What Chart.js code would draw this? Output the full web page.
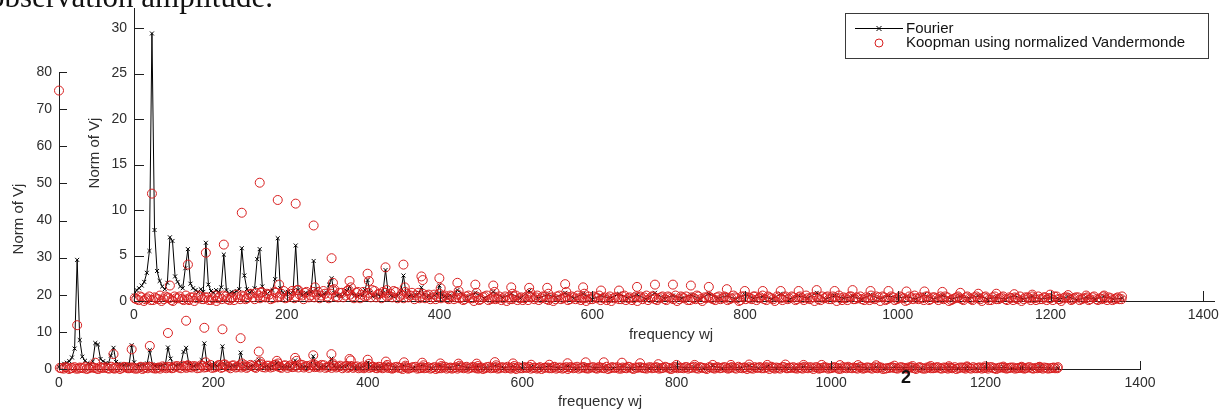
<!DOCTYPE html>
<html lang="en">
<head>
<meta charset="utf-8">
<title>Fourier vs Koopman</title>
<script src="https://cdn.jsdelivr.net/npm/chart.js@4.4.1/dist/chart.umd.min.js"></script>
<style>
  html, body { margin: 0; padding: 0; background: #fff; overflow: hidden; }
  #lienzo { position: relative; width: 1226px; height: 413px; }
  #lienzo canvas { position: absolute; left: 0; top: 0; }
  .texto-pagina { position: absolute; white-space: nowrap; color: #111; }
  #textoSuperior { right: 953px; top: -19px; font: 31px/31px "Liberation Serif", "Times New Roman", serif; }
  #numeroPagina { left: 901px; top: 368px; font: 600 18px/18px "Liberation Sans", Arial, sans-serif; }
</style>
</head>
<body>
<div id="lienzo">
  <canvas id="chartFondo" width="1226" height="413"></canvas>
  <canvas id="chartFrente" width="1226" height="413"></canvas>
  <div class="texto-pagina" id="textoSuperior">observation amplitude.</div>
  <div class="texto-pagina" id="numeroPagina">2</div>
</div>
<script>
// Espectro de Fourier contra modos de Koopman (Vandermonde normalizada).
// Dos ejes MATLAB superpuestos: el de fondo (0-80) y el de frente (0-32).

// Fourier: bins de 0 a 420 uno a uno, despues picos y valles alternados.
const frecuenciasFourier = [
  0, 3.4, 6.7, 10.1, 13.4, 16.8, 20.2, 23.5, 26.9, 30.2,
  33.6, 37.0, 40.3, 43.7, 47.0, 50.4, 53.8, 57.1, 60.5, 63.8,
  67.2, 70.6, 73.9, 77.3, 80.6, 84.0, 87.4, 90.7, 94.1, 97.4,
  100.8, 104.2, 107.5, 110.9, 114.2, 117.6, 121.0, 124.3, 127.7, 131.0,
  134.4, 137.8, 141.1, 144.5, 147.8, 151.2, 154.6, 157.9, 161.3, 164.6,
  168.0, 171.4, 174.7, 178.1, 181.4, 184.8, 188.2, 191.5, 194.9, 198.2,
  201.6, 205.0, 208.3, 211.7, 215.0, 218.4, 221.8, 225.1, 228.5, 231.8,
  235.2, 238.6, 241.9, 245.3, 248.6, 252.0, 255.4, 258.7, 262.1, 265.4,
  268.8, 272.2, 275.5, 278.9, 282.2, 285.6, 289.0, 292.3, 295.7, 299.0,
  302.4, 305.8, 309.1, 312.5, 315.8, 319.2, 322.6, 325.9, 329.3, 332.6,
  336.0, 339.4, 342.7, 346.1, 349.4, 352.8, 356.2, 359.5, 362.9, 366.2,
  369.6, 373.0, 376.3, 379.7, 383.0, 386.4, 389.8, 393.1, 396.5, 399.8,
  403.2, 406.6, 409.9, 413.3, 416.6, 420.0,
  423.4, 435.2, 446.9, 458.6, 470.4, 482.2, 493.9, 505.7, 517.4, 529.2,
  541.0, 552.7, 564.5, 576.2, 588.0, 599.8, 611.5, 623.3, 635.0, 646.8,
  658.6, 670.3, 682.1, 693.8, 705.6, 717.4, 729.1, 740.9, 752.6, 764.4,
  776.2, 787.9, 799.7, 811.4, 823.2, 835.0, 846.7, 858.5, 870.2, 882.0,
  893.8, 905.5, 917.3, 929.0, 940.8, 952.6, 964.3, 976.1, 987.8, 999.6,
  1011.4, 1023.1, 1034.9, 1046.6, 1058.4, 1070.2, 1081.9, 1093.7, 1105.4, 1117.2,
  1129.0, 1140.7, 1152.5, 1164.2, 1176.0, 1187.8, 1199.5, 1211.3, 1223.0, 1234.8,
  1246.6, 1258.3, 1270.1, 1281.8, 1293.6
];
const normasFourier = [
  0.6, 1.2, 1.4, 1.7, 2.1, 3.1, 5.5, 29.4, 7.8, 3.3,
  2.2, 1.6, 1.3, 2.0, 7.0, 6.6, 2.7, 2.1, 1.6, 1.4,
  3.6, 5.7, 1.9, 1.4, 1.2, 1.0, 1.3, 1.0, 6.4, 1.8,
  1.1, 0.9, 1.2, 1.0, 1.5, 5.1, 1.2, 0.8, 1.0, 0.9,
  1.1, 1.3, 5.8, 2.8, 1.3, 0.9, 1.1, 1.4, 4.6, 5.7,
  1.6, 1.0, 0.8, 1.1, 1.2, 2.4, 6.9, 1.4, 0.9, 0.7,
  1.0, 0.8, 1.1, 6.1, 1.2, 0.8, 0.7, 0.9, 0.8, 1.0,
  4.4, 1.3, 0.7, 0.6, 0.8, 0.9, 1.8, 2.5, 0.9, 0.6,
  0.7, 0.5, 0.8, 1.1, 1.6, 0.8, 0.6, 0.5, 0.7, 0.6,
  1.2, 2.3, 0.9, 0.5, 0.6, 0.7, 0.5, 0.9, 3.4, 1.0,
  0.6, 0.5, 0.7, 0.6, 1.1, 2.8, 0.8, 0.5, 0.6, 0.5,
  0.7, 0.9, 1.5, 0.7, 0.5, 0.6, 0.4, 0.6, 0.8, 1.7,
  0.7, 0.5, 0.4, 0.6, 0.5, 0.7,
  1.2, 0.4, 0.9, 0.3, 1.0, 0.4, 0.8, 0.3, 1.1, 0.3,
  0.7, 0.4, 0.9, 0.3, 0.8, 0.2, 0.6, 0.3, 0.8, 0.3,
  0.7, 0.2, 0.9, 0.3, 0.6, 0.3, 0.7, 0.2, 0.8, 0.3,
  0.6, 0.2, 0.7, 0.3, 0.5, 0.2, 0.8, 0.2, 0.6, 0.3,
  0.9, 0.2, 0.6, 0.3, 0.5, 0.2, 0.7, 0.2, 0.6, 0.3,
  0.5, 0.2, 0.7, 0.2, 0.6, 0.2, 0.5, 0.3, 0.6, 0.2,
  0.4, 0.2, 0.6, 0.2, 0.5, 0.2, 0.4, 0.2, 0.5, 0.1,
  0.4, 0.2, 0.5, 0.2, 0.3
];

// Koopman: modos resueltos (circulos que sobresalen de la banda).
const frecuenciasModos = [
  0, 23.5, 47.0, 70.6, 94.1, 117.6, 141.1, 164.6, 188.2, 211.7,
  235.2, 258.7, 282.2, 305.8, 329.3, 352.8, 376.3, 399.8, 423.4, 446.9,
  470.4, 493.9, 517.4, 541.0, 564.5, 588.0, 611.5, 635.0, 658.6, 682.1,
  705.6, 729.1, 752.6, 776.2, 799.7, 823.2, 846.7, 870.2, 893.8, 917.3,
  940.8, 964.3, 987.8, 1011.4, 1034.9, 1058.4, 1081.9, 1105.4, 1129.0, 1152.5,
  1176.0, 1199.5, 1223.0, 1246.6, 1270.1, 1293.6
];
const normasModos = [
  75.0, 11.8, 1.7, 4.0, 5.3, 6.2, 9.7, 13.0, 11.1, 10.7,
  8.3, 4.7, 2.2, 3.0, 3.7, 4.0, 2.7, 2.5, 2.0, 1.8,
  1.7, 1.5, 1.45, 1.45, 1.85, 1.5, 1.15, 1.15, 1.55, 1.8,
  1.8, 1.7, 1.55, 1.3, 1.1, 1.1, 1.1, 1.1, 1.2, 1.1,
  1.2, 1.1, 1.1, 1.05, 1.05, 1.0, 0.9, 0.8, 0.8, 0.75,
  0.7, 0.7, 0.65, 0.6, 0.6, 0.5
];

// Koopman: circulos secundarios junto a cada modo.
const frecuenciasSecundarias = [
  166.0, 190.0, 213.5, 237.0, 260.5, 284.0, 307.5, 331.0, 354.5, 378.0,
  401.5, 425.0, 448.5, 472.0, 495.5, 519.0, 542.5, 566.0, 589.5
];
const normasSecundarias = [
  0.9, 1.8, 1.2, 1.5, 2.0, 1.5, 2.2, 1.2, 1.5, 2.3,
  1.4, 1.1, 0.9, 1.0, 0.8, 0.9, 0.8, 1.0, 0.8
];

// Koopman: banda densa pegada a cero (dos pasadas intercaladas).
const frecuenciasBanda = [
  1, 6, 10, 15, 20, 25, 29, 34, 39, 44,
  49, 53, 58, 63, 68, 72, 77, 82, 87, 91,
  96, 101, 106, 110, 115, 120, 125, 129, 134, 139,
  144, 148, 153, 158, 163, 167, 172, 177, 182, 186,
  191, 196, 201, 205, 210, 215, 220, 224, 229, 234,
  239, 243, 248, 253, 258, 262, 267, 272, 277, 281,
  286, 291, 296, 300, 305, 310, 315, 319, 324, 329,
  334, 338, 343, 348, 353, 357, 362, 367, 372, 376,
  381, 386, 391, 395, 400, 405, 410, 414, 419, 424,
  429, 433, 438, 443, 448, 452, 457, 462, 467, 471,
  476, 481, 486, 490, 495, 500, 505, 509, 514, 519,
  524, 528, 533, 538, 543, 547, 552, 557, 562, 566,
  571, 576, 581, 585, 590, 595, 600, 604, 609, 614,
  619, 623, 628, 633, 638, 642, 647, 652, 657, 661,
  666, 671, 676, 680, 685, 690, 695, 699, 704, 709,
  714, 718, 723, 728, 733, 737, 742, 747, 752, 756,
  761, 766, 771, 775, 780, 785, 790, 794, 799, 804,
  809, 813, 818, 823, 828, 832, 837, 842, 847, 851,
  856, 861, 866, 870, 875, 880, 885, 889, 894, 899,
  904, 908, 913, 918, 923, 927, 932, 937, 942, 946,
  951, 956, 961, 965, 970, 975, 980, 984, 989, 994,
  999, 1003, 1008, 1013, 1018, 1022, 1027, 1032, 1037, 1041,
  1046, 1051, 1056, 1060, 1065, 1070, 1075, 1079, 1084, 1089,
  1094, 1098, 1103, 1108, 1113, 1117, 1122, 1127, 1132, 1136,
  1141, 1146, 1151, 1155, 1160, 1165, 1170, 1174, 1179, 1184,
  1189, 1193, 1198, 1203, 1208, 1212, 1217, 1222, 1227, 1231,
  1236, 1241, 1246, 1250, 1255, 1260, 1265, 1269, 1274, 1279,
  1284, 1288, 1293
];
const normasBanda = [
  0.3, 0.1, 0.4, 0.2, 0.5, 0.1, 0.3, 0.6, 0.2, 0.4,
  0.1, 0.5, 0.3, 0.2, 0.6, 0.1, 0.4, 0.3, 0.5, 0.2,
  0.4, 0.1, 0.6, 0.3, 0.2, 0.5, 0.1, 0.4, 0.7, 0.2,
  0.5, 0.3, 0.8, 0.2, 0.6, 1.0, 0.4, 0.7, 0.3, 0.9,
  0.5, 1.1, 0.4, 0.8, 0.3, 1.2, 0.6, 0.9, 0.4, 1.0,
  0.7, 0.3, 1.1, 0.5, 0.8, 1.3, 0.4, 0.9, 0.6, 1.2,
  0.5, 0.9, 0.3, 1.0, 0.6, 0.4, 1.1, 0.7, 0.3, 0.9,
  0.6, 0.4, 1.0, 0.5, 0.3, 0.8, 0.6, 0.2, 0.9, 0.5,
  0.3, 0.7, 0.4, 0.2, 0.8, 0.5, 0.3, 0.6, 0.2, 0.7,
  0.4, 0.2, 0.6, 0.3, 0.5, 0.1, 0.4, 0.6, 0.2, 0.5,
  0.3, 0.1, 0.5, 0.4, 0.2, 0.6, 0.3, 0.1, 0.5, 0.4,
  0.2, 0.6, 0.3, 0.5, 0.1, 0.4, 0.2, 0.6, 0.3, 0.5,
  0.2, 0.4, 0.6, 0.1, 0.3, 0.5, 0.2, 0.4, 0.6, 0.3,
  0.1, 0.5, 0.3, 0.4, 0.2, 0.6, 0.3, 0.1, 0.5, 0.4,
  0.2, 0.6, 0.3, 0.5, 0.1, 0.4, 0.2, 0.5, 0.3, 0.6,
  0.2, 0.4, 0.5, 0.1, 0.3, 0.6, 0.2, 0.4, 0.5, 0.3,
  0.1, 0.5, 0.3, 0.4, 0.2, 0.6, 0.3, 0.1, 0.5, 0.4,
  0.2, 0.5, 0.3, 0.6, 0.1, 0.4, 0.2, 0.5, 0.3, 0.4,
  0.2, 0.5, 0.1, 0.4, 0.3, 0.6, 0.2, 0.4, 0.5, 0.1,
  0.3, 0.5, 0.2, 0.4, 0.6, 0.1, 0.3, 0.5, 0.2, 0.4,
  0.5, 0.1, 0.3, 0.6, 0.2, 0.4, 0.5, 0.1, 0.3, 0.4,
  0.2, 0.5, 0.3, 0.1, 0.4, 0.6, 0.2, 0.3, 0.5, 0.1,
  0.4, 0.3, 0.5, 0.2, 0.4, 0.1, 0.3, 0.5, 0.2, 0.4,
  0.3, 0.1, 0.5, 0.2, 0.4, 0.3, 0.1, 0.5, 0.2, 0.4,
  0.2, 0.4, 0.1, 0.3, 0.5, 0.2, 0.4, 0.1, 0.3, 0.5,
  0.2, 0.4, 0.3, 0.1, 0.5, 0.2, 0.3, 0.4, 0.1, 0.3,
  0.4, 0.2, 0.3, 0.1, 0.4, 0.2, 0.3, 0.5, 0.1, 0.3,
  0.2, 0.4, 0.2
];
const frecuenciasBanda2 = [
  3, 8, 13, 17, 22, 27, 32, 36, 41, 46,
  51, 55, 60, 65, 70, 74, 79, 84, 89, 93,
  98, 103, 108, 112, 117, 122, 127, 131, 136, 141,
  146, 150, 155, 160, 165, 169, 174, 179, 184, 188,
  193, 198, 203, 207, 212, 217, 222, 226, 231, 236,
  241, 245, 250, 255, 260, 264, 269, 274, 279, 283,
  288, 293, 298, 302, 307, 312, 317, 321, 326, 331,
  336, 340, 345, 350, 355, 359, 364, 369, 374, 378,
  383, 388, 393, 397, 402, 407, 412, 416, 421, 426,
  431, 435, 440, 445, 450, 454, 459, 464, 469, 473,
  478, 483, 488, 492, 497, 502, 507, 511, 516, 521,
  526, 530, 535, 540, 545, 549, 554, 559, 564, 568,
  573, 578, 583, 587, 592, 597, 602, 606, 611, 616,
  621, 625, 630, 635, 640, 644, 649, 654, 659, 663,
  668, 673, 678, 682, 687, 692, 697, 701, 706, 711,
  716, 720, 725, 730, 735, 739, 744, 749, 754, 758,
  763, 768, 773, 777, 782, 787, 792, 796, 801, 806,
  811, 815, 820, 825, 830, 834, 839, 844, 849, 853,
  858, 863, 868, 872, 877, 882, 887, 891, 896, 901,
  906, 910, 915, 920, 925, 929, 934, 939, 944, 948,
  953, 958, 963, 967, 972, 977, 982, 986, 991, 996,
  1001, 1005, 1010, 1015, 1020, 1024, 1029, 1034, 1039, 1043,
  1048, 1053, 1058, 1062, 1067, 1072, 1077, 1081, 1086, 1091,
  1096, 1100, 1105, 1110, 1115, 1119, 1124, 1129, 1134, 1138,
  1143, 1148, 1153, 1157, 1162, 1167, 1172, 1176, 1181, 1186,
  1191, 1195, 1200, 1205, 1210, 1214, 1219, 1224, 1229, 1233,
  1238, 1243, 1248, 1252, 1257, 1262, 1267, 1271, 1276, 1281,
  1286, 1290
];
const normasBanda2 = [
  0.2, 0.5, 0.0, 0.3, 0.1, 0.4, 0.2, 0.0, 0.5, 0.3,
  0.0, 0.3, 0.5, 0.1, 0.2, 0.4, 0.0, 0.6, 0.2, 0.4,
  0.1, 0.3, 0.0, 0.5, 0.6, 0.2, 0.3, 0.1, 0.4, 0.6,
  0.2, 0.7, 0.4, 0.9, 0.3, 0.5, 0.8, 0.2, 1.0, 0.4,
  0.8, 0.3, 0.6, 1.1, 0.5, 0.7, 0.2, 1.0, 0.6, 0.4,
  1.0, 0.6, 0.8, 0.3, 1.2, 0.5, 0.9, 0.4, 1.1, 0.7,
  0.3, 1.0, 0.7, 0.5, 0.9, 1.2, 0.4, 0.8, 1.0, 0.5,
  0.8, 1.1, 0.3, 0.7, 1.0, 0.4, 0.9, 0.6, 0.3, 0.8,
  0.6, 0.2, 0.7, 0.5, 0.3, 0.6, 0.2, 0.5, 0.4, 0.3,
  0.1, 0.5, 0.3, 0.0, 0.4, 0.2, 0.5, 0.1, 0.3, 0.2,
  0.5, 0.3, 0.0, 0.2, 0.5, 0.1, 0.4, 0.3, 0.1, 0.5,
  0.4, 0.1, 0.5, 0.2, 0.3, 0.0, 0.5, 0.2, 0.4, 0.1,
  0.5, 0.2, 0.3, 0.4, 0.0, 0.2, 0.5, 0.3, 0.1, 0.4,
  0.3, 0.0, 0.4, 0.2, 0.5, 0.1, 0.4, 0.3, 0.0, 0.5,
  0.4, 0.1, 0.5, 0.2, 0.3, 0.5, 0.1, 0.4, 0.2, 0.0,
  0.5, 0.3, 0.1, 0.4, 0.2, 0.5, 0.0, 0.3, 0.4, 0.2,
  0.4, 0.2, 0.5, 0.1, 0.3, 0.4, 0.0, 0.5, 0.2, 0.3,
  0.5, 0.1, 0.4, 0.2, 0.5, 0.3, 0.0, 0.4, 0.1, 0.5,
  0.3, 0.4, 0.2, 0.5, 0.1, 0.3, 0.4, 0.0, 0.2, 0.5,
  0.4, 0.2, 0.5, 0.0, 0.3, 0.4, 0.1, 0.5, 0.2, 0.3,
  0.2, 0.4, 0.1, 0.3, 0.5, 0.0, 0.4, 0.2, 0.5, 0.1,
  0.3, 0.4, 0.0, 0.5, 0.2, 0.3, 0.4, 0.1, 0.5, 0.2,
  0.4, 0.1, 0.3, 0.5, 0.0, 0.2, 0.4, 0.3, 0.1, 0.5,
  0.2, 0.4, 0.3, 0.0, 0.5, 0.1, 0.4, 0.2, 0.3, 0.5,
  0.1, 0.3, 0.4, 0.2, 0.0, 0.4, 0.3, 0.5, 0.1, 0.2,
  0.4, 0.1, 0.3, 0.5, 0.2, 0.0, 0.4, 0.3, 0.2, 0.4,
  0.1, 0.3, 0.4, 0.2, 0.5, 0.1, 0.2, 0.3, 0.4, 0.1,
  0.3, 0.2
];

const ticksFrecuencia = [0, 200, 400, 600, 800, 1000, 1200, 1400];
const ticksNormaFondo = [0, 10, 20, 30, 40, 50, 60, 70, 80];
const ticksNormaFrente = [0, 5, 10, 15, 20, 25, 30];

const ETIQUETA_FOURIER = "Fourier";
const ETIQUETA_KOOPMAN = "Koopman using normalized Vandermonde";
const TITULO_X = "frequency wj";
const TITULO_Y = "Norm of Vj";

(function () {
  const ANCHO = 1226;
  const ALTO = 413;
  const COLOR_FOURIER = "#000000";
  const COLOR_KOOPMAN = "#d81f1f";
  const COLOR_EJE = "#1e1e1e";
  const COLOR_TEXTO = "#2e2e2e";

  Chart.defaults.font.family = "'Liberation Sans', Arial, sans-serif";
  Chart.defaults.font.size = 14;
  Chart.defaults.color = COLOR_TEXTO;

  function pares(xs, ys) {
    return xs.map((x, i) => ({ x, y: ys[i] }));
  }

  const puntosFourier = pares(frecuenciasFourier, normasFourier);
  const puntosKoopman = [
    ...pares(frecuenciasBanda, normasBanda),
    ...pares(frecuenciasBanda2, normasBanda2),
    ...pares(frecuenciasSecundarias, normasSecundarias),
    ...pares(frecuenciasModos, normasModos)
  ];

  // Marcas de eje hacia dentro, como en MATLAB.
  const marcasInternas = {
    id: "marcasInternas",
    afterDraw(chart, args, opts) {
      const { ctx, chartArea, scales } = chart;
      ctx.save();
      ctx.strokeStyle = COLOR_EJE;
      ctx.lineWidth = 1;
      ctx.beginPath();
      scales.x.ticks.forEach(t => {
        const px = Math.round(scales.x.getPixelForValue(t.value)) + 0.5;
        ctx.moveTo(px, chartArea.bottom);
        ctx.lineTo(px, chartArea.bottom - opts.largo);
      });
      scales.y.ticks.forEach(t => {
        const py = Math.round(scales.y.getPixelForValue(t.value)) + 0.5;
        ctx.moveTo(chartArea.left, py);
        ctx.lineTo(chartArea.left + opts.largo, py);
      });
      ctx.stroke();
      ctx.restore();
    }
  };

  const rotulosEjes = {
    id: "rotulosEjes",
    afterDraw(chart, args, opts) {
      const { ctx } = chart;
      ctx.save();
      ctx.fillStyle = COLOR_TEXTO;
      ctx.font = "15px 'Liberation Sans', Arial, sans-serif";
      ctx.textAlign = "center";
      ctx.textBaseline = "middle";
      ctx.fillText(TITULO_X, opts.x[0], opts.x[1]);
      ctx.translate(opts.y[0], opts.y[1]);
      ctx.rotate(-Math.PI / 2);
      ctx.fillText(TITULO_Y, 0, 0);
      ctx.restore();
    }
  };

  const leyendaCaja = {
    id: "leyendaCaja",
    afterDraw(chart, args, opts) {
      const { ctx } = chart;
      const [x, y, w, h] = opts.caja;
      ctx.save();
      ctx.fillStyle = "#ffffff";
      ctx.fillRect(x, y, w, h);
      ctx.strokeStyle = "#3a3a3a";
      ctx.lineWidth = 1;
      ctx.strokeRect(x + 0.5, y + 0.5, w, h);

      const f1 = y + opts.filas[0] + 0.5;
      const f2 = y + opts.filas[1];
      const cx = x + 34;
      ctx.strokeStyle = COLOR_FOURIER;
      ctx.beginPath();
      ctx.moveTo(x + 10, f1);
      ctx.lineTo(x + 58, f1);
      ctx.moveTo(cx - 2.5, f1 - 2.5);
      ctx.lineTo(cx + 2.5, f1 + 2.5);
      ctx.moveTo(cx - 2.5, f1 + 2.5);
      ctx.lineTo(cx + 2.5, f1 - 2.5);
      ctx.stroke();

      ctx.strokeStyle = COLOR_KOOPMAN;
      ctx.beginPath();
      ctx.arc(cx, f2, 4, 0, Math.PI * 2);
      ctx.stroke();

      ctx.fillStyle = "#111";
      ctx.font = "15px 'Liberation Sans', Arial, sans-serif";
      ctx.textBaseline = "middle";
      ctx.fillText(ETIQUETA_FOURIER, x + 61, f1);
      ctx.fillText(ETIQUETA_KOOPMAN, x + 61, f2);
      ctx.restore();
    }
  };

  function crearGrafica(idCanvas, cfg) {
    const plugins = [marcasInternas, rotulosEjes];
    if (cfg.caja) plugins.push(leyendaCaja);
    return new Chart(document.getElementById(idCanvas), {
      type: "line",
      data: {
        datasets: [{
          label: ETIQUETA_FOURIER,
          data: puntosFourier,
          borderColor: COLOR_FOURIER,
          borderWidth: 1,
          pointStyle: "crossRot",
          pointRadius: 2.8,
          pointBorderWidth: 1,
          pointBorderColor: COLOR_FOURIER,
          pointBackgroundColor: COLOR_FOURIER,
          fill: false,
          tension: 0,
          clip: false,
          order: 2
        }, {
          label: ETIQUETA_KOOPMAN,
          data: puntosKoopman,
          showLine: false,
          pointStyle: "circle",
          pointRadius: 4.5,
          pointBorderWidth: 1,
          pointBorderColor: COLOR_KOOPMAN,
          pointBackgroundColor: "rgba(0,0,0,0)",
          clip: false,
          order: 1
        }]
      },
      options: {
        responsive: false,
        animation: false,
        events: [],
        layout: { padding: { left: 0, top: cfg.area.top, right: ANCHO - cfg.area.right, bottom: 0 } },
        plugins: {
          legend: { display: false },
          tooltip: { enabled: false },
          marcasInternas: { largo: cfg.largoMarca },
          rotulosEjes: { x: cfg.tituloX, y: cfg.tituloY },
          leyendaCaja: { caja: cfg.caja, filas: [15, 30] }
        },
        scales: {
          x: {
            type: "linear",
            min: 0,
            max: cfg.xMax,
            grid: { display: false, drawTicks: false },
            border: { display: true, color: COLOR_EJE, width: 1 },
            ticks: { padding: 6, maxRotation: 0, callback: v => String(v) },
            afterBuildTicks: s => { s.ticks = ticksFrecuencia.map(v => ({ value: v })); },
            afterFit: s => {
              s.height = ALTO - cfg.area.bottom;
              s.paddingLeft = 0; s.paddingRight = 0;
            }
          },
          y: {
            type: "linear",
            min: 0,
            max: cfg.yMax,
            grid: { display: false, drawTicks: false },
            border: { display: true, color: COLOR_EJE, width: 1 },
            ticks: { padding: 7, callback: v => String(v) },
            afterBuildTicks: s => { s.ticks = cfg.ticksY.map(v => ({ value: v })); },
            afterFit: s => {
              s.width = cfg.area.left;
              s.paddingTop = 0; s.paddingBottom = 0;
            }
          }
        }
      },
      plugins
    });
  }

  // Ejes de fondo (0-80).
  crearGrafica("chartFondo", {
    area: { left: 59, right: 1140, top: 72, bottom: 369 },
    xMax: 1400,
    yMax: 80,
    ticksY: ticksNormaFondo,
    largoMarca: 8,
    tituloX: [600, 402],
    tituloY: [19, 219]
  });

  // Ejes de frente (0-32), encima del anterior.
  crearGrafica("chartFrente", {
    area: { left: 134, right: 1214, top: 8, bottom: 301 },
    xMax: 1414,
    yMax: 32.2,
    ticksY: ticksNormaFrente,
    largoMarca: 10,
    tituloX: [671, 335],
    tituloY: [95, 153],
    caja: [845, 13, 363, 45]
  });
})();
</script>
</body>
</html>
